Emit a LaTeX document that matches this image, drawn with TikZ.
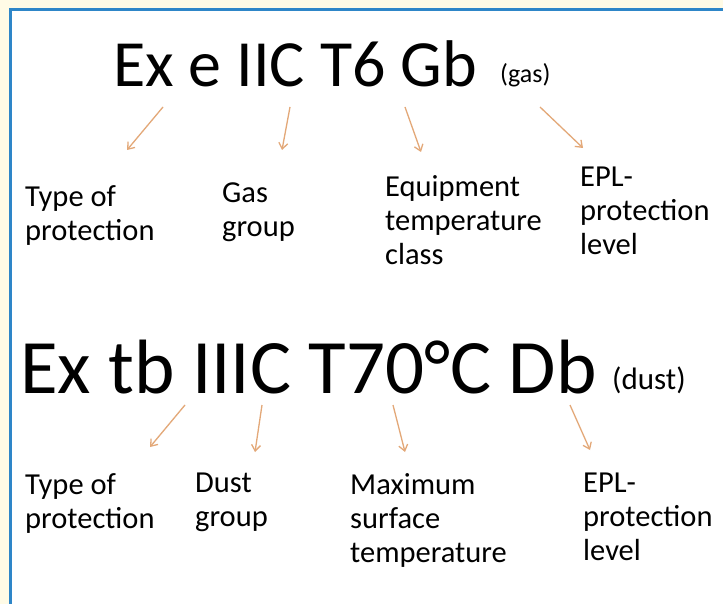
\documentclass[tikz,border=0pt]{standalone}
\usepackage{fontspec}
\setmainfont{Carlito}
\usetikzlibrary{arrows.meta}
\definecolor{cream}{HTML}{FFFBE6}
\definecolor{frameblue}{HTML}{2E86C8}
\definecolor{arrowtan}{HTML}{E3A878}
\tikzset{
  title/.style={anchor=base west, inner sep=0pt},
  note/.style={anchor=base west, inner sep=0pt},
  label/.style={anchor=north west, inner sep=0pt, align=left, font=\fontsize{30.5}{34}\selectfont},
  pointer/.style={draw=arrowtan, line width=1.3pt, -{Straight Barb[length=6pt,width=9pt]}}
}
\begin{document}
\begin{tikzpicture}[x=1pt,y=-1pt]
\useasboundingbox (0,0) rectangle (723,604);
\fill[cream] (0,0) rectangle (723,604);
\fill[white] (10,10) rectangle (723,604);
\draw[frameblue, line width=3pt] (10,604) -- (10,10) -- (723,10);

% gas line
\node[title, font=\fontsize{66}{76}\selectfont] (t1) at (113,87) {Ex e IIC T6 Gb};
\node[note, font=\fontsize{26}{30}\selectfont] (n1) at (500,83) {(gas)};
\coordinate (a1s) at (163,107); \coordinate (a1e) at (127,150);
\coordinate (a2s) at (290,107); \coordinate (a2e) at (282,150);
\coordinate (a3s) at (405,107); \coordinate (a3e) at (421,152);
\coordinate (a4s) at (540,107); \coordinate (a4e) at (583,148);
\draw[pointer] (a1s) -- (a1e);
\draw[pointer] (a2s) -- (a2e);
\draw[pointer] (a3s) -- (a3e);
\draw[pointer] (a4s) -- (a4e);
\node[label] (g1) at (25,185) {Type of\\protection};
\node[label] (g2) at (222,183) {Gas\\group};
\node[label] (g3) at (385,175) {Equipment\\temperature\\class};
\node[label] (g4) at (580,167) {EPL-\\protection\\level};

% dust line
\node[title, font=\fontsize{77}{88}\selectfont] (t2) at (20,393) {Ex tb IIIC T70°C Db};
\node[note, font=\fontsize{31}{36}\selectfont] (n2) at (612,389) {(dust)};
\coordinate (b1s) at (185,405); \coordinate (b1e) at (150,447);
\coordinate (b2s) at (262,405); \coordinate (b2e) at (255,452);
\coordinate (b3s) at (393,405); \coordinate (b3e) at (405,452);
\coordinate (b4s) at (570,405); \coordinate (b4e) at (590,450);
\draw[pointer] (b1s) -- (b1e);
\draw[pointer] (b2s) -- (b2e);
\draw[pointer] (b3s) -- (b3e);
\draw[pointer] (b4s) -- (b4e);
\node[label] (d1) at (25,473) {Type of\\protection};
\node[label] (d2) at (195,473) {Dust\\group};
\node[label] (d3) at (350,473) {Maximum\\surface\\temperature};
\node[label] (d4) at (583,473) {EPL-\\protection\\level};
\end{tikzpicture}
\end{document}
